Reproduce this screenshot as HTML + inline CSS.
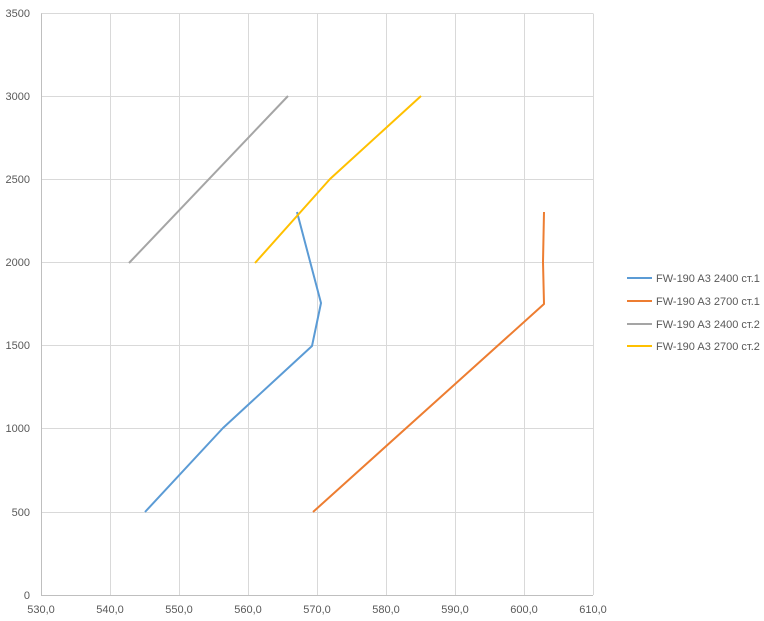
<!DOCTYPE html>
<html><head><style>body{margin:0;background:#fff}svg{display:block;font-family:"Liberation Sans",sans-serif}</style></head><body>
<svg width="764" height="621" xmlns="http://www.w3.org/2000/svg">
<g stroke="#d9d9d9" stroke-width="1">
<line x1="110.5" y1="13.5" x2="110.5" y2="595"/><line x1="179.5" y1="13.5" x2="179.5" y2="595"/><line x1="248.5" y1="13.5" x2="248.5" y2="595"/><line x1="317.5" y1="13.5" x2="317.5" y2="595"/><line x1="386.5" y1="13.5" x2="386.5" y2="595"/><line x1="455.5" y1="13.5" x2="455.5" y2="595"/><line x1="524.5" y1="13.5" x2="524.5" y2="595"/><line x1="593.5" y1="13.5" x2="593.5" y2="595"/>
<line x1="41" y1="13.5" x2="593" y2="13.5"/><line x1="41" y1="96.5" x2="593" y2="96.5"/><line x1="41" y1="179.5" x2="593" y2="179.5"/><line x1="41" y1="262.5" x2="593" y2="262.5"/><line x1="41" y1="345.5" x2="593" y2="345.5"/><line x1="41" y1="428.5" x2="593" y2="428.5"/><line x1="41" y1="512.5" x2="593" y2="512.5"/>
</g>
<g stroke="#bfbfbf"><line x1="41.5" y1="13.5" x2="41.5" y2="595"/><line x1="41" y1="595.5" x2="593" y2="595.5"/></g>
<g font-size="11" fill="#595959" text-anchor="end">
<text x="30" y="17">3500</text><text x="30" y="100">3000</text><text x="30" y="183">2500</text><text x="30" y="266">2000</text><text x="30" y="349">1500</text><text x="30" y="432">1000</text><text x="30" y="516">500</text><text x="30" y="599">0</text>
</g>
<g font-size="11" fill="#595959" text-anchor="middle">
<text x="41" y="613">530,0</text><text x="110" y="613">540,0</text><text x="179" y="613">550,0</text><text x="248" y="613">560,0</text><text x="317" y="613">570,0</text><text x="386" y="613">580,0</text><text x="455" y="613">590,0</text><text x="524" y="613">600,0</text><text x="593" y="613">610,0</text>
</g>
<g fill="none" stroke-width="2" stroke-linejoin="round">
<polyline stroke="#5b9bd5" points="145,512 223,428 312,346 321,303 297,212"/>
<polyline stroke="#ed7d31" points="313,512 544,304 543,262 544,212"/>
<polyline stroke="#a5a5a5" points="129,263 288,96"/>
<polyline stroke="#ffc000" points="255,263 330,179 421,96"/>
</g>
<g stroke-width="2"><line x1="627" y1="278" x2="652" y2="278" stroke="#5b9bd5"/><line x1="627" y1="301" x2="652" y2="301" stroke="#ed7d31"/><line x1="627" y1="324" x2="652" y2="324" stroke="#a5a5a5"/><line x1="627" y1="346" x2="652" y2="346" stroke="#ffc000"/></g>
<g font-size="11" fill="#595959">
<text x="656" y="282">FW-190 A3 2400 ст.1</text><text x="656" y="305">FW-190 A3 2700 ст.1</text><text x="656" y="328">FW-190 A3 2400 ст.2</text><text x="656" y="350">FW-190 A3 2700 ст.2</text>
</g>
</svg>
</body></html>
